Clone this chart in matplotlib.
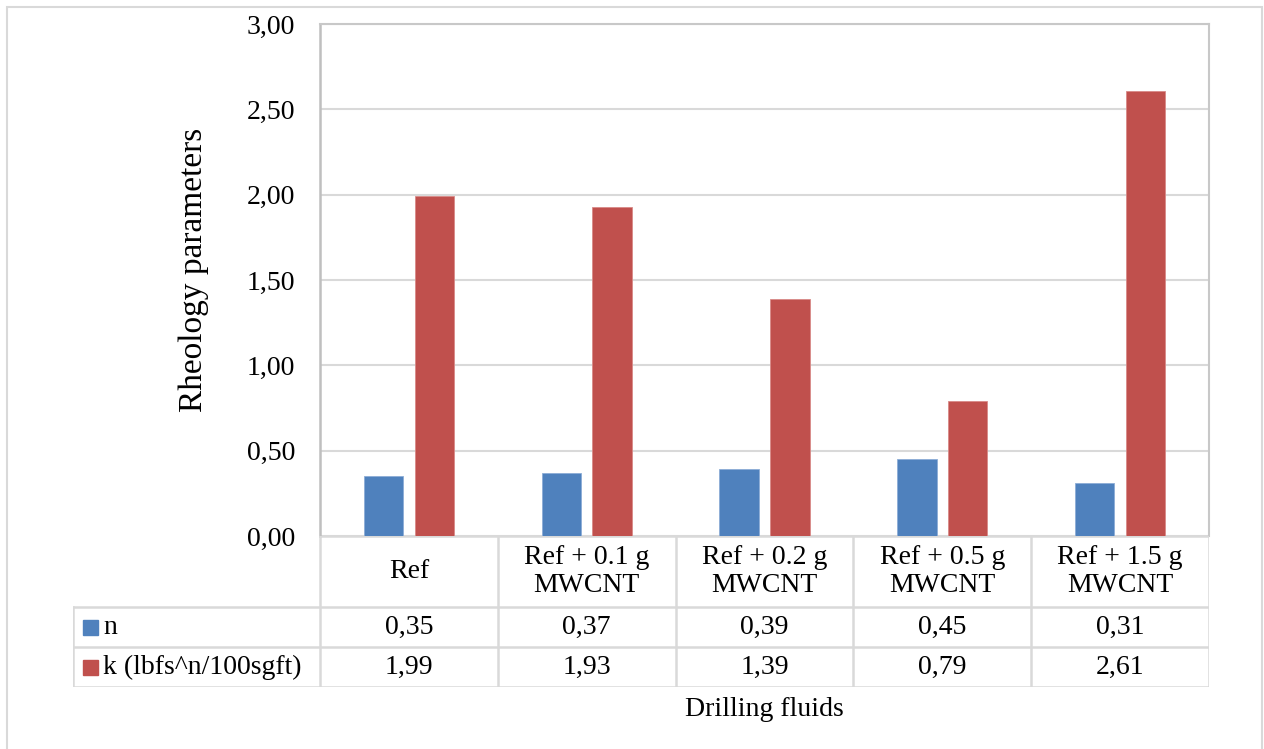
import numpy as np
import matplotlib
matplotlib.use("Agg")
import matplotlib.pyplot as plt
from matplotlib.patches import Rectangle

# Data
categories = ["Ref", "Ref + 0.1 g\nMWCNT", "Ref + 0.2 g\nMWCNT",
              "Ref + 0.5 g\nMWCNT", "Ref + 1.5 g\nMWCNT"]
n_vals = [0.35, 0.37, 0.39, 0.45, 0.31]
k_vals = [1.99, 1.93, 1.39, 0.79, 2.61]
series_names = ["n", "k (lbfs^n/100sgft)"]
yticks = [0.0, 0.5, 1.0, 1.5, 2.0, 2.5, 3.0]

blue = "#4F81BD"
red = "#C0504D"
grid_c = "#d9d9d9"

plt.rcParams["font.family"] = ["Liberation Serif", "DejaVu Serif"]
fs = 20

W, H = 1264, 749
fig = plt.figure(figsize=(W / 100, H / 100), dpi=100)


def box(x0, y0, x1, y1):
    return [x0 / W, 1 - y1 / H, (x1 - x0) / W, (y1 - y0) / H]


# outer chart frame
fig.patches.append(Rectangle((7 / W, -0.02), (1262 - 7) / W, 1.02 - 7 / H,
                             transform=fig.transFigure, fill=False,
                             edgecolor=grid_c, linewidth=1.5))

# main plot area
px_left, px_right, px_top, px_zero = 320, 1209, 24, 536
ax = fig.add_axes(box(px_left, px_top, px_right, px_zero))
x = np.arange(len(categories))
bw = 0.222
off = 0.143
ax.bar(x - off, n_vals, bw, color=blue, edgecolor="#8cadd6", linewidth=0.6, zorder=3)
ax.bar(x + off, k_vals, bw, color=red, edgecolor="#d88a88", linewidth=0.6, zorder=3)
ax.set_xlim(-0.5, len(categories) - 0.5)
ax.set_ylim(0, 3)
ax.set_yticks(yticks)
ax.set_yticklabels([f"{v:.2f}".replace(".", ",") for v in yticks], fontsize=fs)
ax.set_xticks([])
ax.tick_params(axis="y", length=0, pad=18)
ax.yaxis.grid(True, color=grid_c, linewidth=1.5, zorder=0)
ax.spines["left"].set_color("#bfbfbf")
ax.spines["left"].set_linewidth(1.8)
for s in ["top", "right"]:
    ax.spines[s].set_color("#c8c8c8")
    ax.spines[s].set_linewidth(1.5)
ax.spines["bottom"].set_visible(False)

fig.text(194 / W, 1 - 270 / H, "Rheology parameters", rotation=90,
         ha="center", va="center", fontsize=24)

# data table under the plot
col_w = (px_right - px_left) / len(categories)
tab_left = 73
tab = fig.add_axes(box(tab_left, px_zero, px_right, 687))
x_min = -0.5 - (px_left - tab_left) / col_w
tab.set_xlim(x_min, len(categories) - 0.5)
tab.set_ylim(151, 0)
tab.axis("off")
rows = [0, 71, 111, 151]
lc = dict(color=grid_c, linewidth=1.8, solid_capstyle="projecting")
for b in np.arange(len(categories) + 1) - 0.5:
    tab.plot([b, b], [0, 151], **lc)
tab.plot([x_min, x_min], [71, 151], **lc)
tab.plot([-0.5, len(categories) - 0.5], [0, 0], **lc)
for r in rows[1:]:
    tab.plot([x_min, len(categories) - 0.5], [r, r], **lc)

for i, c in enumerate(categories):
    tab.text(i, 35.5, c, ha="center", va="center", fontsize=fs, linespacing=1.15)

for j, (name, vals, col) in enumerate(zip(series_names, [n_vals, k_vals], [blue, red])):
    yc = (rows[j + 1] + rows[j + 2]) / 2
    tab.plot([x_min + 16.5 / col_w], [yc], marker="s", markersize=10.8,
             color=col, linestyle="none")
    tab.text(x_min + 30 / col_w, yc, name, ha="left", va="center", fontsize=fs)
    for i, v in enumerate(vals):
        tab.text(i, yc, f"{v:.2f}".replace(".", ","), ha="center", va="center",
                 fontsize=fs)

fig.text(764 / W, 1 - 709 / H, "Drilling fluids", ha="center", va="center",
         fontsize=fs)

fig.savefig("out.png", dpi=100)
